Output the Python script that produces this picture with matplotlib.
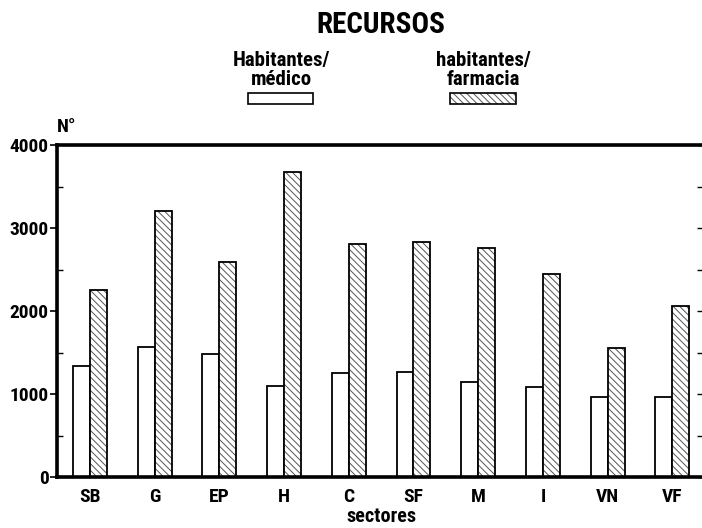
import matplotlib
matplotlib.use('Agg')

import matplotlib.pyplot as plt
from matplotlib.patches import Rectangle
from matplotlib.ticker import MultipleLocator

FONT = ['Roboto Condensed', 'DejaVu Sans']
plt.rcParams['font.family'] = FONT
plt.rcParams['font.weight'] = 'bold'
plt.rcParams['hatch.linewidth'] = 0.7

sectores = ['SB', 'G', 'EP', 'H', 'C', 'SF', 'M', 'I', 'VN', 'VF']
hab_medico = [1340, 1570, 1480, 1100, 1250, 1260, 1150, 1090, 960, 960]
hab_farmacia = [2250, 3200, 2590, 3680, 2810, 2830, 2760, 2440, 1550, 2060]
yticks = [0, 1000, 2000, 3000, 4000]

HATCH = '\\\\\\\\\\'
HATCH_COLOR = '#555555'

W, H = 702, 528
fig = plt.figure(figsize=(W / 100, H / 100), dpi=100)
ax = fig.add_axes([57 / W, 1 - 477 / H, (704 - 57) / W, (477 - 145) / H])

x = list(range(len(sectores)))
bw = 0.262
ax.bar([i - bw / 2 for i in x], hab_medico, bw, color='white',
       edgecolor='black', linewidth=1.3)
# hatch in grey, outline in black drawn on top
ax.bar([i + bw / 2 for i in x], hab_farmacia, bw, color='white',
       edgecolor=HATCH_COLOR, linewidth=0, hatch=HATCH)
ax.bar([i + bw / 2 for i in x], hab_farmacia, bw, fill=False,
       edgecolor='black', linewidth=1.3)

ax.set_xlim(-0.51, 9.49)
ax.set_ylim(0, 4000)
ax.set_xticks(x)
ax.set_xticklabels(sectores, fontsize=14)
ax.set_yticks(yticks)
ax.set_yticklabels([str(v) for v in yticks], fontsize=14)
ax.yaxis.set_minor_locator(MultipleLocator(500))
ax.tick_params(axis='x', length=0, pad=8)
ax.tick_params(axis='y', which='major', length=5, width=1.2, direction='out', pad=1)
ax.tick_params(axis='y', which='minor', length=4, width=1.0, direction='in')

for side in ['left', 'bottom', 'top', 'right']:
    ax.spines[side].set_linewidth(2.6)

ax2 = ax.twinx()
ax2.set_ylim(0, 4000)
ax2.set_yticks(yticks)
ax2.yaxis.set_minor_locator(MultipleLocator(500))
ax2.tick_params(axis='y', which='both', direction='in', length=5, width=1.0,
                labelright=False)
ax2.spines['right'].set_linewidth(2.6)

fig.text(381 / W, 1 - 25 / H, 'RECURSOS', fontsize=21, ha='center', va='center')
fig.text(67 / W, 1 - 127 / H, 'N°', fontsize=14, ha='center', va='center')
fig.text(381 / W, 1 - 517 / H, 'sectores', fontsize=14.5, ha='center', va='center')

fig.text(281 / W, 1 - 70 / H, 'Habitantes/\nmédico', fontsize=15, ha='center',
         va='center', linespacing=1.0)
fig.text(483 / W, 1 - 70 / H, 'habitantes/\nfarmacia', fontsize=15, ha='center',
         va='center', linespacing=1.0)
fig.add_artist(Rectangle((248 / W, 1 - 104 / H), 65 / W, 11 / H,
                         transform=fig.transFigure, facecolor='white',
                         edgecolor='black', linewidth=1.2))
fig.add_artist(Rectangle((450 / W, 1 - 104 / H), 66 / W, 11 / H,
                         transform=fig.transFigure, facecolor='white',
                         edgecolor=HATCH_COLOR, linewidth=0, hatch=HATCH))
fig.add_artist(Rectangle((450 / W, 1 - 104 / H), 66 / W, 11 / H,
                         transform=fig.transFigure, fill=False,
                         edgecolor='black', linewidth=1.2))

fig.savefig('out.png', dpi=100)
